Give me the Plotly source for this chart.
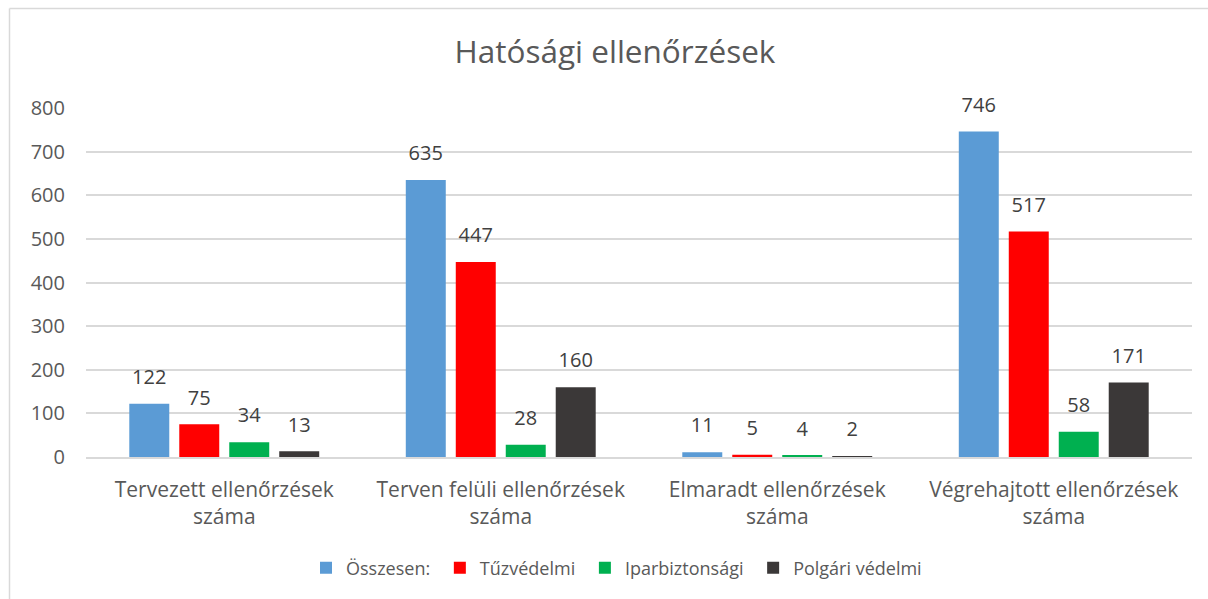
import plotly.graph_objects as go

categories = ["Tervezett ellenőrzések<br>száma", "Terven felüli ellenőrzések<br>száma",
              "Elmaradt ellenőrzések<br>száma", "Végrehajtott ellenőrzések<br>száma"]
series_names = ["Összesen:", "Tűzvédelmi", "Iparbiztonsági", "Polgári védelmi"]
osszesen = [122, 635, 11, 746]
tuzvedelmi = [75, 447, 5, 517]
iparbiztonsagi = [34, 28, 4, 58]
polgari = [13, 160, 2, 171]
colors = ["#5B9BD5", "#FF0000", "#00B050", "#3B3838"]
y_ticks = [0, 100, 200, 300, 400, 500, 600, 700, 800]

FONT = "Open Sans"
BARGAP = 0.277
fig = go.Figure()
all_vals = [osszesen, tuzvedelmi, iparbiztonsagi, polgari]
for i, (name, vals, col) in enumerate(zip(series_names, all_vals, colors)):
    fig.add_trace(go.Bar(
        name=name + "\u00a0", x=categories, y=vals, marker=dict(color=col, line=dict(width=0)),
        offsetgroup=str(i), hoverinfo="x+y",
    ))
for i, vals in enumerate(all_vals):
    fig.add_trace(go.Scatter(
        x=categories, y=vals, mode="markers+text", text=[str(v) for v in vals],
        textposition="top center", offsetgroup=str(i),
        marker=dict(size=22, opacity=0), cliponaxis=False,
        textfont=dict(family=FONT, size=20, color="#404040"),
        showlegend=False, hoverinfo="skip",
    ))

W, H = 1208, 599
L, R, T, B = 86, 16, 108, 142
pw, ph = W - L - R, H - T - B
zero_y = H - B

border = dict(color="#D9D9D9", width=1.5)
fig.update_layout(
    width=W, height=H,
    margin=dict(l=L, r=R, t=T, b=B),
    paper_bgcolor="white", plot_bgcolor="white",
    barmode="group", bargap=BARGAP, bargroupgap=0.2,
    scattermode="group", scattergap=BARGAP,
    font=dict(family=FONT, color="#595959"),
    title=dict(text="Hatósági ellenőrzések", x=615 / W, xanchor="center",
               y=1 - 52 / H, yanchor="middle",
               font=dict(family=FONT, size=31.5, color="#595959")),
    xaxis=dict(showgrid=False, showline=True, linecolor="#D9D9D9", linewidth=1.5,
               ticks="", ticklabelstandoff=13,
               tickfont=dict(family=FONT, size=21, color="#595959")),
    yaxis=dict(range=[0, 800], tickvals=y_ticks, showgrid=True, gridcolor="#D9D9D9",
               gridwidth=1.5, zeroline=False, showline=False, ticks="",
               ticklabelstandoff=20,
               tickfont=dict(family=FONT, size=20, color="#595959")),
    legend=dict(orientation="h", x=(619 - L) / pw, xanchor="center",
                y=(zero_y - 568) / ph, yanchor="middle",
                font=dict(family=FONT, size=18, color="#595959"),
                itemwidth=30, traceorder="normal"),
    shapes=[
        dict(type="line", xref="paper", yref="paper",
             x0=(9.5 - L) / pw, x1=(9.5 - L) / pw,
             y0=(zero_y - H - 5) / ph, y1=1 + (T - 8.5) / ph, line=border, layer="below"),
        dict(type="line", xref="paper", yref="paper",
             x0=(9.5 - L) / pw, x1=(W + 5 - L) / pw,
             y0=1 + (T - 8.5) / ph, y1=1 + (T - 8.5) / ph, line=border, layer="below"),
    ],
)
fig.write_html(
    "out.html",
    config={"displayModeBar": False},
    post_script="document.body.style.margin='0';document.body.style.overflow='hidden';",
)
